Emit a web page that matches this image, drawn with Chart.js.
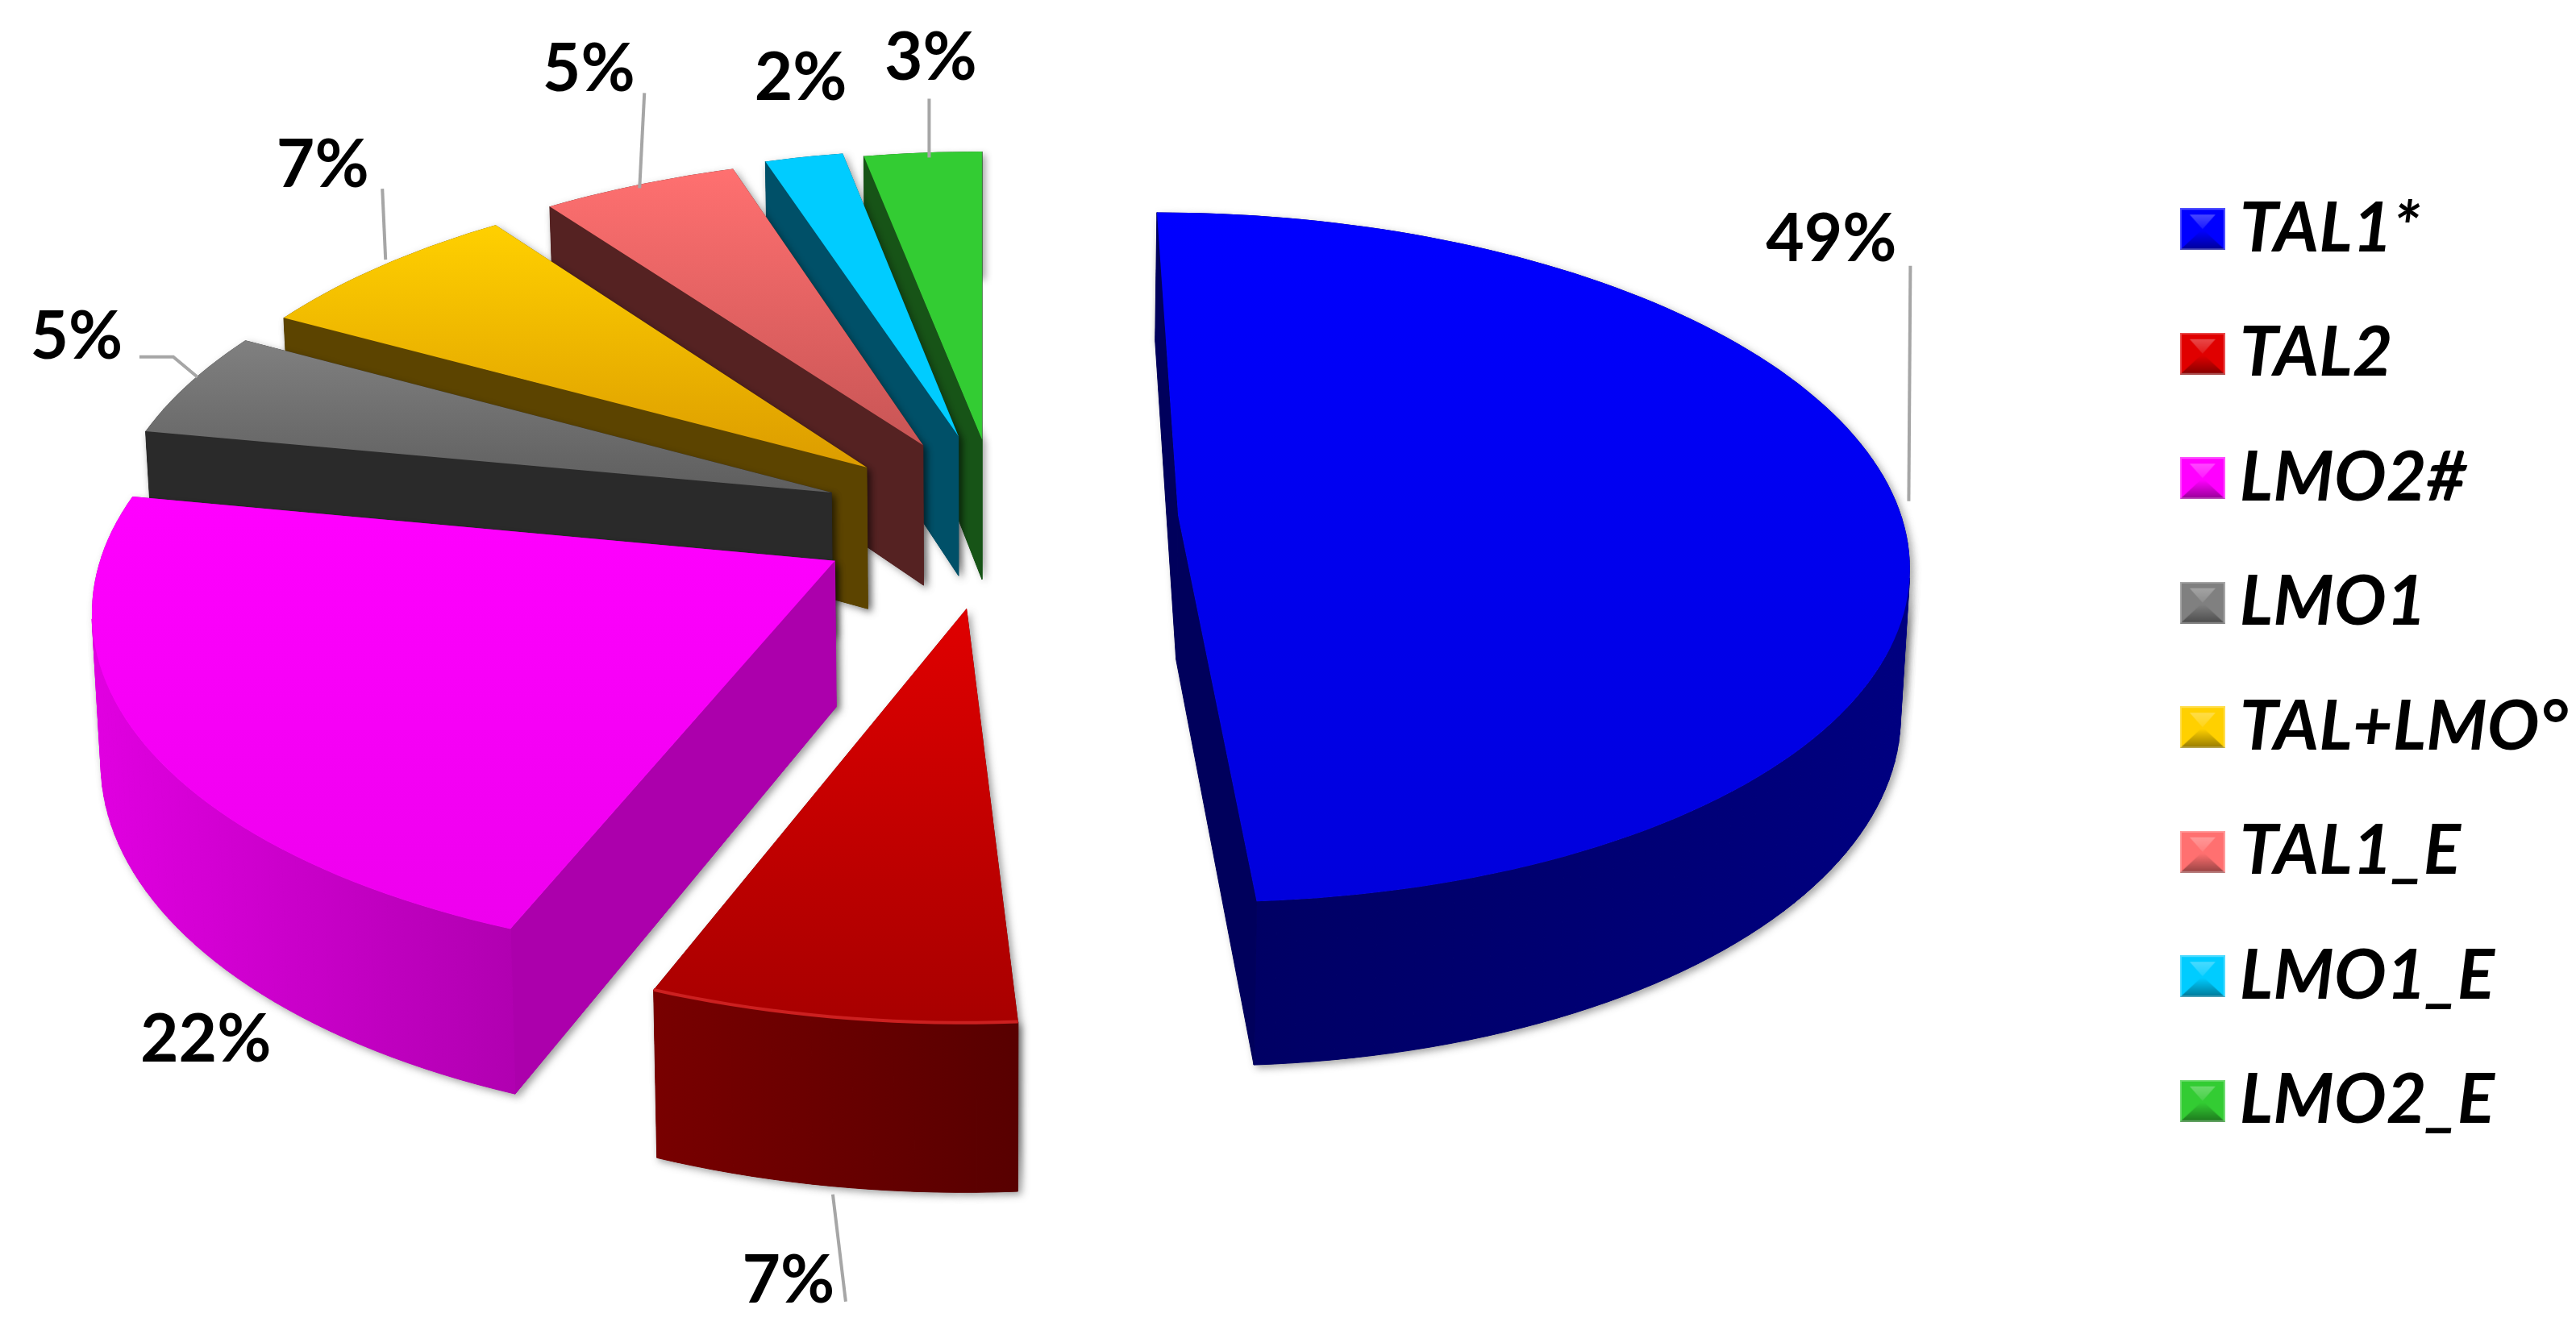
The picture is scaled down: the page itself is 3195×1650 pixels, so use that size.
<!DOCTYPE html>
<html>
<head>
<meta charset="utf-8">
<style>
  html, body { margin: 0; background: #fff; }
  canvas { display: block; }
</style>
<script src="https://cdn.jsdelivr.net/npm/chart.js@4"></script>
</head>
<body>
<canvas id="pie3d" width="3195" height="1650"></canvas>
<script>
// data
const categories = ['TAL1*', 'TAL2', 'LMO2#', 'LMO1', 'TAL+LMO°', 'TAL1_E', 'LMO1_E', 'LMO2_E'];
const percents = [49, 7, 22, 5, 7, 5, 2, 3];

// slice colours
const topColors = ['#0000ff', '#e00000', '#ff00ff', '#808080', '#ffd000', '#ff7070', '#00ccff', '#33cc33'];
const topEndColors = ['#0000dc', '#a80000', '#ee00ee', '#5e5e5e', '#dc9c00', '#c85555', '#00ccff', '#33cc33'];
const wallLeftColors = ['#000060', '#780000', '#e000e0', '#2a2a2a', '#5c4400', '#5a2626', '#005068', '#175417'];
const wallRightColors = ['#000080', '#580000', '#8c008c', '#2a2a2a', '#5c4400', '#5a2626', '#005068', '#175417'];
const sideColors = ['#00005c', '#640000', '#ac00ac', '#2a2a2a', '#5c4400', '#552222', '#005068', '#175417'];
const rimColors = [null, '#cc2020', null, null, null, null, null, null];

// explosion of each slice, distance and small direction tweak in degrees
const explode = [232, 262, 242, 212, 199, 198, 206, 192];
const explodeTilt = [6.5, -1.4, -6, -8, -6.9, -0.8, 1.3, 0.6];

// label and leader placement, relative to the rim point of the slice
const labelOffsets = [[-84, -334], [-55, 118], [74, 185], [-144, -53], [-72, -125], [-71, -141], [-4, -97], [10, -117]];
const leaderOffsets = [
  [[12, -10], [14, -302]],
  [[0, 10], [16, 143]],
  null,
  [[6, -4], [-24, -29], [-66, -29]],
  [[6, -8], [2, -96]],
  [[-8, 6], [-2, -112]],
  null,
  [[8, 6], [8, -67]]
];

// perspective of the ground plane
const vanishX = 1218, vanishY = -2848, planeH = 3546, planeD = 7420;
const centerU = 16, centerV = -143;
const wallDrop = 219, wallShrink = 0.99;

function project(u, v, low) {
  let s = 1 / (1 - v / planeD);
  if (low) s *= wallShrink;
  return { x: vanishX + u * s, y: vanishY + (planeH + (low ? wallDrop : 0)) * s };
}

function quad(ctx, a, b, c, d) {
  ctx.beginPath();
  ctx.moveTo(a.x, a.y);
  ctx.lineTo(b.x, b.y);
  ctx.lineTo(c.x, c.y);
  ctx.lineTo(d.x, d.y);
  ctx.closePath();
}

function groundPoints(arc, i) {
  const mid = (arc.startAngle + arc.endAngle) / 2 + explodeTilt[i] * Math.PI / 180;
  const apex = { u: centerU + explode[i] * Math.cos(mid), v: centerV + explode[i] * Math.sin(mid) };
  const steps = Math.max(8, Math.round((arc.endAngle - arc.startAngle) * 40));
  const rim = [];
  for (let k = 0; k <= steps; k++) {
    const a = arc.startAngle + (arc.endAngle - arc.startAngle) * k / steps;
    rim.push({ u: apex.u + arc.outerRadius * Math.cos(a), v: apex.v + arc.outerRadius * Math.sin(a) });
  }
  return { apex, rim };
}

function drawSlice(ctx, arc, i) {
  const { apex, rim } = groundPoints(arc, i);
  const outline = [apex].concat(rim);
  const top = outline.map(p => project(p.u, p.v, false));
  const low = outline.map(p => project(p.u, p.v, true));
  const n = outline.length;

  const wallGrad = ctx.createLinearGradient(Math.min(...low.map(p => p.x)), 0, Math.max(...low.map(p => p.x)), 0);
  wallGrad.addColorStop(0, wallLeftColors[i]);
  wallGrad.addColorStop(1, wallRightColors[i]);

  // soft shadow under the whole slice
  ctx.save();
  ctx.shadowColor = 'rgba(0,0,0,0.38)';
  ctx.shadowBlur = 10;
  ctx.shadowOffsetX = 4;
  ctx.shadowOffsetY = 4;
  ctx.fillStyle = sideColors[i];
  for (let k = 0; k < n; k++) {
    const m = (k + 1) % n;
    quad(ctx, top[k], top[m], low[m], low[k]);
    ctx.fill();
  }
  ctx.restore();

  // walls that face the viewer
  ctx.lineWidth = 1;
  for (let k = 0; k < n; k++) {
    const m = (k + 1) % n;
    const ex = top[m].x - top[k].x, ey = top[m].y - top[k].y;
    const dx = low[k].x - top[k].x, dy = low[k].y - top[k].y;
    if (ex * dy - ey * dx >= 0) continue;
    const radial = k === 0 || k === n - 1;
    ctx.fillStyle = radial ? sideColors[i] : wallGrad;
    ctx.strokeStyle = ctx.fillStyle;
    quad(ctx, top[k], top[m], low[m], low[k]);
    ctx.fill();
    ctx.stroke();
  }

  // top face
  const topGrad = ctx.createLinearGradient(0, Math.min(...top.map(p => p.y)), 0, Math.max(...top.map(p => p.y)));
  topGrad.addColorStop(0, topColors[i]);
  topGrad.addColorStop(1, topEndColors[i]);
  ctx.fillStyle = topGrad;
  ctx.beginPath();
  top.forEach((p, k) => (k ? ctx.lineTo(p.x, p.y) : ctx.moveTo(p.x, p.y)));
  ctx.closePath();
  ctx.fill();

  if (rimColors[i]) {
    ctx.strokeStyle = rimColors[i];
    ctx.lineWidth = 4;
    ctx.beginPath();
    top.slice(1).forEach((p, k) => (k ? ctx.lineTo(p.x, p.y) : ctx.moveTo(p.x, p.y)));
    ctx.stroke();
  }
}

function drawLabel(ctx, arc, i) {
  const { rim } = groundPoints(arc, i);
  const p = rim[Math.round((rim.length - 1) / 2)];
  const onWall = i === 1 || i === 2;
  const anchor = project(p.u, p.v, onWall);
  const leader = leaderOffsets[i];
  if (leader) {
    ctx.strokeStyle = '#a6a6a6';
    ctx.lineWidth = 4;
    ctx.beginPath();
    leader.forEach((o, k) => {
      if (k) ctx.lineTo(anchor.x + o[0], anchor.y + o[1]);
      else ctx.moveTo(anchor.x + o[0], anchor.y + o[1]);
    });
    ctx.stroke();
  }
  ctx.fillStyle = '#000';
  ctx.font = 'bold 82px Lato';
  ctx.textAlign = 'center';
  ctx.textBaseline = 'middle';
  ctx.fillText(percents[i] + '%', anchor.x + labelOffsets[i][0], anchor.y + labelOffsets[i][1]);
}

// legend marker with a small bevel
function makeMarker(color) {
  const c = document.createElement('canvas');
  c.width = 56;
  c.height = 52;
  const g = c.getContext('2d');
  g.fillStyle = color;
  g.fillRect(0, 0, 56, 52);
  const light = g.createLinearGradient(0, 6, 0, 26);
  light.addColorStop(0, 'rgba(255,255,255,0.3)');
  light.addColorStop(1, 'rgba(255,255,255,0.1)');
  g.fillStyle = light;
  g.beginPath();
  g.moveTo(12, 8); g.lineTo(44, 8); g.lineTo(28, 26);
  g.fill();
  const dark = g.createLinearGradient(0, 28, 0, 52);
  dark.addColorStop(0, 'rgba(0,0,0,0)');
  dark.addColorStop(1, 'rgba(0,0,0,0.42)');
  g.fillStyle = dark;
  g.beginPath();
  g.moveTo(0, 52); g.lineTo(56, 52); g.lineTo(28, 26);
  g.fill();
  g.strokeStyle = 'rgba(255,255,255,0.3)';
  g.lineWidth = 2;
  g.strokeRect(1, 1, 54, 50);
  return c;
}

const pie3d = {
  id: 'pie3d',
  beforeDatasetDraw(chart, args) {
    const { ctx } = chart;
    const arcs = chart.getDatasetMeta(args.index).data;
    // far slices first, the list runs clockwise from twelve o'clock
    for (let i = arcs.length - 1; i >= 0; i--) drawSlice(ctx, arcs[i], i);
    arcs.forEach((arc, i) => drawLabel(ctx, arc, i));
    return false;
  }
};

const chart = new Chart(document.getElementById('pie3d'), {
  type: 'pie',
  data: {
    labels: categories,
    datasets: [{
      data: percents,
      backgroundColor: topColors,
      radius: 912,
      borderWidth: 0,
      hoverOffset: 0
    }]
  },
  plugins: [pie3d],
  options: {
    responsive: false,
    animation: false,
    events: [],
    plugins: {
      tooltip: { enabled: false },
      legend: {
        position: 'right',
        labels: {
          usePointStyle: true,
          color: '#000',
          padding: 68.5,
          pointStyleWidth: 6,
          boxHeight: 52,
          font: { family: 'Lato', size: 86, style: 'italic', weight: 'bold' },
          generateLabels(c) {
            return categories.map((text, i) => ({
              text,
              pointStyle: makeMarker(topColors[i]),
              fontColor: '#000',
              lineWidth: 0,
              datasetIndex: 0,
              index: i
            }));
          }
        }
      }
    }
  }
});
</script>
</body>
</html>
